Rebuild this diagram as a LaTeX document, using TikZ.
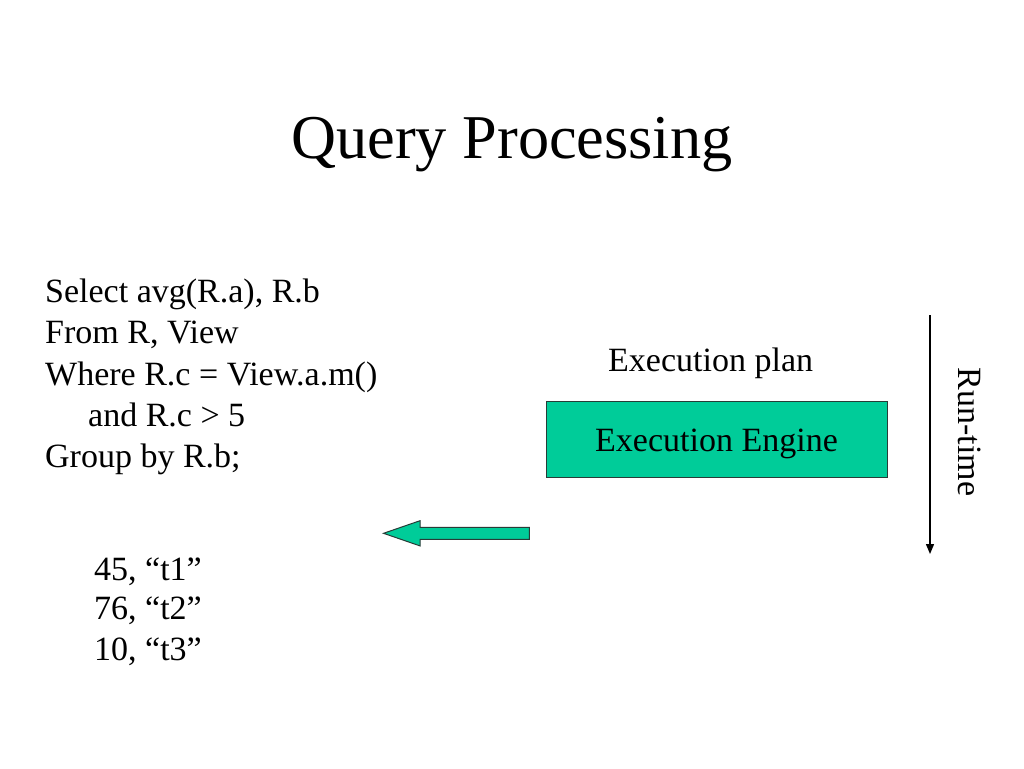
\documentclass[tikz,border=0pt]{standalone}
\usepackage{fontspec}
\setmainfont{Liberation Serif}
\usetikzlibrary{arrows.meta}
\definecolor{teal1}{RGB}{0,204,153}
\definecolor{edge1}{RGB}{40,60,55}
\begin{document}
\begin{tikzpicture}[x=1pt,y=-1pt,
  body/.style={font=\fontsize{34}{41}\selectfont, inner sep=0pt, anchor=base west},
  titletext/.style={font=\fontsize{62.3}{75}\selectfont, inner sep=0pt, anchor=base},
  enginebox/.style={draw=edge1, line width=1pt, fill=teal1, minimum width=341pt, minimum height=76pt, inner sep=0pt, text height=25.4pt, text depth=0pt, font=\fontsize{34}{41}\selectfont},
  blockarrow/.style={draw=edge1, line width=1pt, fill=teal1, line join=miter},
  timeline/.style={line width=1.3pt, -{Triangle[length=10pt,width=8pt]}}
]
\useasboundingbox (0,0) rectangle (1024,768);
\fill[white] (0,0) rectangle (1024,768);

\node[titletext] (title) at (512,158) {Query Processing};

\node[body] (sql1) at (45,302.5) {Select avg(R.a), R.b};
\node[body] (sql2) at (45,343) {From R, View};
\node[body] (sql3) at (45,385) {Where R.c = View.a.m()};
\node[body] (sql4) at (88,426) {and R.c > 5};
\node[body] (sql5) at (45,467) {Group by R.b;};

\node[body] (res1) at (94,580) {45, “t1”};
\node[body] (res2) at (94,619.5) {76, “t2”};
\node[body] (res3) at (94,660) {10, “t3”};

\node[body] (plan) at (608,371.7) {Execution plan};
\node[enginebox] (engine) at (716.5,439) {Execution Engine};

\coordinate (rtstart) at (930,315);
\coordinate (rtend) at (930,554);
\draw[timeline] (rtstart) -- (rtend);
\node[font=\fontsize{34}{41}\selectfont, inner sep=0pt, anchor=base, rotate=-90] (runtime) at (958.5,432) {Run-time};

\draw[blockarrow] (529.3,527.3) -- (420,527.3) -- (420,520.7) -- (383.5,533.3) -- (420,545.9) -- (420,539.3) -- (529.3,539.3) -- cycle;
\end{tikzpicture}
\end{document}
